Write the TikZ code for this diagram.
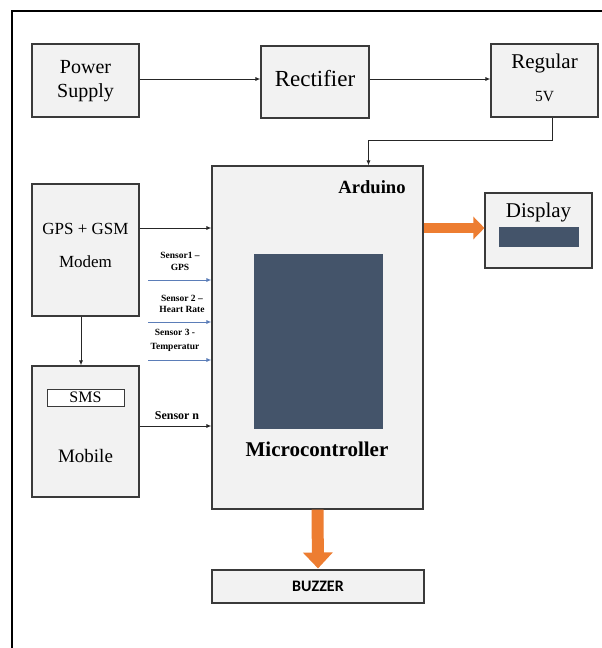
\documentclass[tikz,border=0pt]{standalone}
\usepackage{fontspec}
\setmainfont{Liberation Serif}
\newfontfamily\calib{Carlito}
\usetikzlibrary{arrows.meta,calc}
\definecolor{boxfill}{HTML}{F2F2F2}
\definecolor{boxline}{HTML}{3A3A3A}
\definecolor{slate}{HTML}{44546A}
\definecolor{orng}{HTML}{ED7D31}
\definecolor{sblue}{HTML}{5B7DB8}
\tikzset{
  blk/.style={draw=boxline, line width=1.1pt, fill=boxfill, inner sep=0pt},
  txt/.style={inner sep=0pt, align=center},
  arr/.style={draw=black!85, line width=0.9pt, -{Latex[length=5pt,width=4pt]}},
  barr/.style={draw=sblue, line width=0.9pt, -{Latex[length=5pt,width=4pt]}},
  fat/.style={draw=orng},
}
\newcommand{\fs}[1]{\fontsize{#1}{#1}\selectfont}
\begin{document}
\begin{tikzpicture}[x=1pt,y=-1pt]
\useasboundingbox (0,0) rectangle (602,648);
% frame (left and top sides)
\draw[line width=2.6pt, black] (12,649) -- (12,11) -- (603,11);

% boxes
\node[blk, minimum width=107pt, minimum height=73pt] (ps) at (85.5,80.5) {};
\node[txt, font=\fs{20}, text depth=0pt] (pst) at (85.5,78.5) {Power\\[4pt]Supply};
\node[blk, minimum width=108pt, minimum height=72pt] (rect) at (315,82) {};
\node[txt, font=\fs{23}] (rectt) at (315,79) {Rectifier};
\node[blk, minimum width=107pt, minimum height=73pt] (reg) at (544.5,80.5) {};
\node[txt, font=\fs{21}] (regt) at (544.5,63) {Regular};
\node[txt, font=\fs{15.5}] (regv) at (544.5,97) {5V};

\node[blk, minimum width=107pt, minimum height=132pt] (gps) at (85.5,250) {};
\node[txt, font=\fs{17}] (gpst1) at (85.5,229) {GPS + GSM};
\node[txt, font=\fs{17}] (gpst2) at (85.5,262) {Modem};

\node[blk, minimum width=107pt, minimum height=131pt] (mob) at (85.5,431.5) {};
\node[draw=boxline, line width=1pt, fill=white, minimum width=77pt, minimum height=17pt, inner sep=0pt, font=\fs{16}] (sms) at (85.5,397.5) {SMS};
\node[txt, font=\fs{19}] (mobt) at (85.5,456) {Mobile};

\node[blk, minimum width=211pt, minimum height=343pt] (ard) at (317.5,337.5) {};
\node[txt, font=\bfseries\fs{18.6}] (ardt) at (372,187) {Arduino};
\node[fill=slate, minimum width=129pt, minimum height=175pt, inner sep=0pt] (chip) at (318.5,341.5) {};
\node[txt, font=\bfseries\fs{21}] (mct) at (317,449) {Microcontroller};

\node[blk, minimum width=107pt, minimum height=75pt] (disp) at (538.5,230.5) {};
\node[txt, font=\fs{21}] (dispt) at (538.5,212) {Display};
\node[fill=slate, minimum width=80pt, minimum height=20pt, inner sep=0pt] (dbar) at (539,237) {};

\node[blk, minimum width=212pt, minimum height=33pt, font=\calib\bfseries\fs{16}] (buz) at (318,586.5) {BUZZER};

% connectors
\draw[arr] (ps.east |- 0,79) -- (rect.west |- 0,79);
\draw[arr] (rect.east |- 0,79) -- (reg.west |- 0,79);
\draw[arr] ([xshift=7.5pt]reg.south) -- ([xshift=7.5pt]reg.south |- 0,140) -| ([xshift=51pt]ard.north);
\draw[arr] (gps.east |- 0,228) -- (ard.west |- 0,228);
\draw[arr] ([xshift=-4.5pt]gps.south) -- ([xshift=-4.5pt]mob.north);
\draw[arr] (mob.east |- 0,426) -- (ard.west |- 0,426);

\coordinate (s1) at (148,280);
\coordinate (s2) at (148,322);
\coordinate (s3) at (148,360);
\draw[barr] (s1) -- (ard.west |- s1);
\draw[barr] (s2) -- (ard.west |- s2);
\draw[barr] (s3) -- (ard.west |- s3);

\node[txt, font=\bfseries\fs{9.5}] (l1) at (180,261.5) {Sensor1 –\\[3pt]GPS};
\node[txt, font=\bfseries\fs{9.5}] (l2) at (182,304) {Sensor 2 –\\[2pt]Heart Rate};
\node[txt, font=\bfseries\fs{9.5}] (l3) at (175,340.5) {Sensor 3 -\\[4pt]Temperatur};
\node[txt, font=\bfseries\fs{12}] (ln) at (177,416) {Sensor n};

% orange arrows
\draw[fat, line width=10pt, -{Triangle[length=11pt,width=22pt]}] (ard.east |- 0,228) -- (disp.west |- 0,228);
\draw[fat, line width=12pt, -{Triangle[length=16pt,width=29pt]}] (ard.south) -- ([yshift=1pt]buz.north);
\end{tikzpicture}
\end{document}
